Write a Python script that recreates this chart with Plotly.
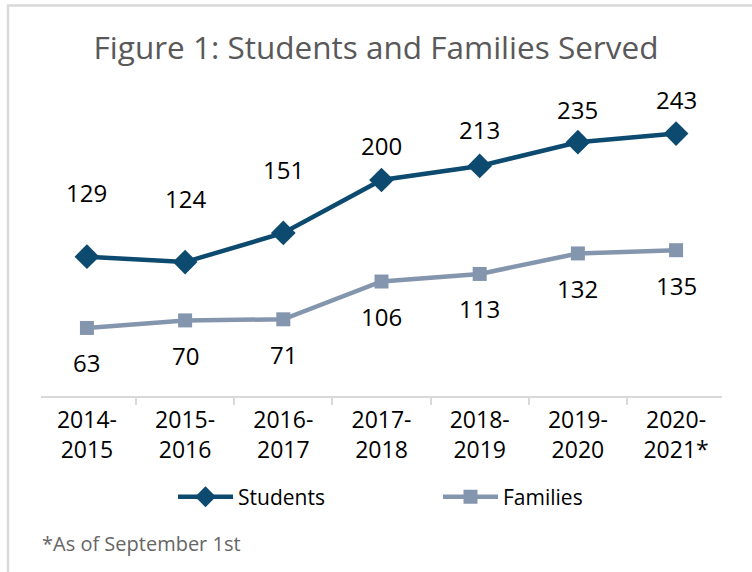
import plotly.graph_objects as go

# Program years and counts served
years = ["2014-<br>2015", "2015-<br>2016", "2016-<br>2017", "2017-<br>2018",
         "2018-<br>2019", "2019-<br>2020", "2020-<br>2021*"]
students = [129, 124, 151, 200, 213, 235, 243]
families = [63, 70, 71, 106, 113, 132, 135]

STUDENT_COLOR = "#0D4A70"
FAMILY_COLOR = "#8496AE"
FONT = "Open Sans"

# vertical offsets (px) for the value labels
student_label_shift = [64, 64, 63, 35, 36, 33, 34]
family_label_shift = -35

fig = go.Figure()
fig.add_trace(go.Scatter(
    x=years, y=students, name="Students", mode="lines+markers",
    line=dict(color=STUDENT_COLOR, width=4.5),
    marker=dict(symbol="diamond", size=19, color=STUDENT_COLOR),
))
fig.add_trace(go.Scatter(
    x=years, y=families, name="Families", mode="lines+markers",
    line=dict(color=FAMILY_COLOR, width=4.5),
    marker=dict(symbol="square", size=14, color=FAMILY_COLOR),
))

annotations = []
for x, v, s in zip(years, students, student_label_shift):
    annotations.append(dict(x=x, y=v, text=str(v), showarrow=False, yshift=s,
                            font=dict(family=FONT, size=24, color="#000000")))
for x, v in zip(years, families):
    annotations.append(dict(x=x, y=v, text=str(v), showarrow=False, yshift=family_label_shift,
                            font=dict(family=FONT, size=24, color="#000000")))
annotations.append(dict(xref="paper", yref="paper", x=-0.002, y=-0.454, xanchor="left",
                        yanchor="middle", showarrow=False, text="*As of September 1st",
                        font=dict(family=FONT, size=20, color="#666666")))

fig.update_layout(
    width=752, height=572,
    margin=dict(l=41, r=30, t=72, b=176),
    paper_bgcolor="white", plot_bgcolor="white",
    title=dict(text="Figure 1: Students and Families Served", x=0.5, xanchor="center",
               y=1 - 48 / 572, yanchor="middle", yref="container",
               font=dict(family=FONT, size=31.5, color="#595959")),
    showlegend=True,
    legend=dict(orientation="h", x=(178 - 41 - 5) / 681, xanchor="left", y=-0.312,
                yanchor="middle",
                font=dict(family=FONT, size=21, color="#000000"),
                entrywidth=195, entrywidthmode="pixels", itemwidth=55),
    xaxis=dict(type="category", showgrid=False, showline=True, linecolor="#D9D9D9",
               linewidth=1.5, ticks="outside", tickson="boundaries", ticklen=7,
               tickcolor="#D9D9D9", tickwidth=1.5, ticklabelstandoff=3,
               tickfont=dict(family=FONT, size=23, color="#000000"), fixedrange=True),
    yaxis=dict(range=[0, 300], visible=False, fixedrange=True),
    annotations=annotations,
    shapes=[dict(type="rect", xref="paper", yref="paper", x0=(8 - 41) / 681, x1=1.2,
                 y0=-1.0, y1=(396 - 5.5) / 324, line=dict(color="#D9D9D9", width=2.5),
                 fillcolor="rgba(0,0,0,0)", layer="below")],
)

fig.write_html("out.html")
